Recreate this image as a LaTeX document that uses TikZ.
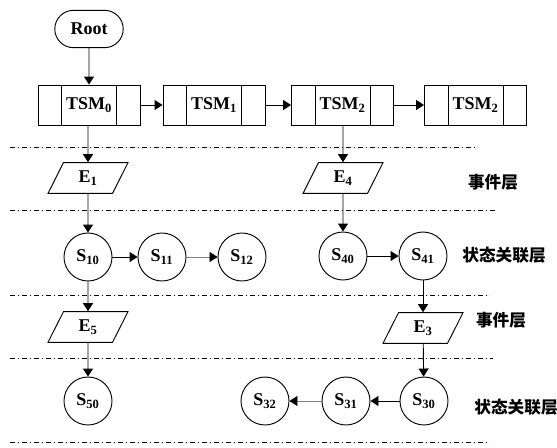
\documentclass[tikz,border=0pt]{standalone}
\usepackage{fontspec}
\setmainfont{Liberation Serif}
\newfontfamily\cjk{Noto Sans CJK SC}
\usetikzlibrary{arrows.meta,shapes.geometric,shapes.misc}

\begin{document}
\begin{tikzpicture}[
    x=0.75pt,
    y=-0.75pt,
    font=\fontsize{13.5}{15}\selectfont\bfseries,
    >={Triangle[width=7.5pt,length=6pt]},
    line width=0.7pt,
    rootbox/.style={
        draw,
        rounded rectangle,
        minimum width=58pt,
        minimum height=28pt
    },
    tsmbox/.style={
        draw,
        minimum width=76.5pt,
        minimum height=30pt,
        inner sep=0pt
    },
    event/.style={
        draw,
        trapezium,
        trapezium left angle=68,
        trapezium right angle=112,
        trapezium stretches=true,
        minimum width=60pt,
        minimum height=23pt,
        inner sep=0pt
    },
    state/.style={
        draw,
        circle,
        minimum size=36pt,
        inner sep=0pt
    },
    layer/.style={
        font=\cjk\fontsize{12.5}{14}\selectfont\bfseries
    },
    sep/.style={
        line width=0.6pt,
        dash pattern=on 4pt off 2pt on 1pt off 2pt
    },
    link/.style={
        ->
    },
    weak/.style={
        -{Triangle[width=7.5pt,length=6pt,black]},
        gray,
        line width=0.4pt
    }
]

\useasboundingbox (0,0) rectangle (557,447);

% Root and the TSM list
\node[rootbox] (root) at (89,29) {Root};

\node[tsmbox] (tsm0) at (89,105) {TSM\textsubscript{0}};
\node[tsmbox] (tsm1) at (214,105) {TSM\textsubscript{1}};
\node[tsmbox] (tsm2) at (342.5,105) {TSM\textsubscript{2}};
\node[tsmbox] (tsm3) at (475.5,105) {TSM\textsubscript{2}};

\foreach \t in {tsm0,tsm1,tsm2,tsm3} {
    \draw ([xshift=18pt]\t.north west) -- ([xshift=18pt]\t.south west);
    \draw ([xshift=-18pt]\t.north east) -- ([xshift=-18pt]\t.south east);
}

\draw[link] (root) -- (tsm0);
\draw[link] (tsm0) -- (tsm1);
\draw[link] (tsm1) -- (tsm2);
\draw[link] (tsm2) -- (tsm3);

% Layer separators
\draw[sep] (10,147) -- (478,147);
\draw[sep] (10,210) -- (495,210);
\draw[sep] (10,295) -- (490,295);
\draw[sep] (10,358) -- (493,358);
\draw[sep] (10,442) -- (490,442);

% Upper event layer
\node[event] (e1) at (88,178) {E\textsubscript{1}};
\node[event] (e4) at (343,178) {E\textsubscript{4}};
\node[layer] (ev1) at (493,182) {事件层};

\draw[link] (tsm0.south -| e1) -- (e1);
\draw[link] (tsm2.south -| e4) -- (e4);

% Upper state layer
\node[state] (s10) at (88,257) {S\textsubscript{10}};
\node[state] (s11) at (162,257) {S\textsubscript{11}};
\node[state] (s12) at (242,257) {S\textsubscript{12}};
\node[state] (s40) at (343,256) {S\textsubscript{40}};
\node[state] (s41) at (423,256) {S\textsubscript{41}};
\node[layer] (st1) at (504,255) {状态关联层};

\draw[link] (e1) -- (s10);
\draw[link] (e4) -- (s40);
\draw[link] (s10) -- (s11);
\draw[weak] (s11) -- (s12);
\draw[link] (s40) -- (s41);

% Lower event layer
\node[event] (e5) at (88,327) {E\textsubscript{5}};
\node[event] (e3) at (423,328) {E\textsubscript{3}};
\node[layer] (ev2) at (501,320) {事件层};

\draw[link] (s10) -- (e5);
\draw[link] (s41) -- (e3);

% Lower state layer
\node[state] (s50) at (88,401) {S\textsubscript{50}};
\node[state] (s30) at (424,401) {S\textsubscript{30}};
\node[state] (s31) at (346,401) {S\textsubscript{31}};
\node[state] (s32) at (265,401) {S\textsubscript{32}};
\node[layer] (st2) at (516,407) {状态关联层};

\draw[link] (e5) -- (s50);
\draw[link] (e3) -- (s30);
\draw[link] (s30) -- (s31);
\draw[weak] (s31) -- (s32);

\end{tikzpicture}
\end{document}
